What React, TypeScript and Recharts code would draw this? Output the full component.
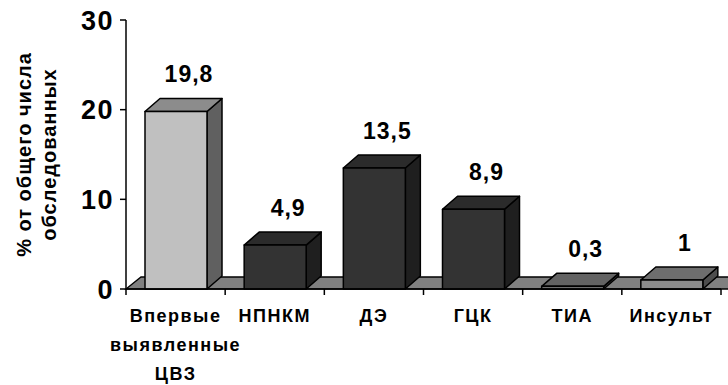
import React from 'react';
import { BarChart, Bar, XAxis, YAxis, ReferenceArea, LabelList, Label } from 'recharts';

const categories = ['Впервые\nвыявленные\nЦВЗ', 'НПНКМ', 'ДЭ', 'ГЦК', 'ТИА', 'Инсульт'];
const values = [19.8, 4.9, 13.5, 8.9, 0.3, 1];
const valueLabels = ['19,8', '4,9', '13,5', '8,9', '0,3', '1'];
const yTicks = [0, 10, 20, 30];
const yTitle = ['% от общего числа', 'обследованных'];

const palette = [
  { front: '#C0C0C0', top: '#8C8C8C', side: '#606060' },
  { front: '#333333', top: '#2B2B2B', side: '#1F1F1F' },
  { front: '#333333', top: '#2B2B2B', side: '#1F1F1F' },
  { front: '#333333', top: '#2B2B2B', side: '#1F1F1F' },
  { front: '#707070', top: '#636363', side: '#444444' },
  { front: '#8C8C8C', top: '#6E6E6E', side: '#4D4D4D' },
];

const data = categories.map((c, i) => ({ name: c, value: values[i], label: valueLabels[i] }));

const FONT = '"Liberation Sans", Arial, sans-serif';
const DX = 15;
const DY = 13;

const Box3D = (p: any) => {
  const { x, y, width: w, height: h, index } = p;
  const c = palette[index] || palette[1];
  return (
    <g stroke="#000" strokeWidth={1.5} strokeLinejoin="round">
      <polygon points={`${x + w},${y} ${x + w + DX},${y - DY} ${x + w + DX},${y + h - DY} ${x + w},${y + h}`} fill={c.side} />
      <polygon points={`${x},${y} ${x + DX},${y - DY} ${x + w + DX},${y - DY} ${x + w},${y}`} fill={c.top} />
      <rect x={x} y={y} width={w} height={h} fill={c.front} />
    </g>
  );
};

const Floor = (p: any) => {
  const { x, y, width: w, height: h } = p;
  const yb = y + (h || 0);
  const d = 12;
  return (
    <polygon
      points={`${x},${yb} ${x + DX},${yb - d} ${x + w + DX},${yb - d} ${x + w},${yb}`}
      fill="#808080"
      stroke="#000"
      strokeWidth={1.3}
    />
  );
};

const XTick = (p: any) => {
  const { x, y, payload, index, visibleTicksCount } = p;
  const half = payload && typeof payload.offset === 'number' ? payload.offset : 0;
  const lines = String(payload.value).split('\n');
  const isLast = visibleTicksCount ? index === visibleTicksCount - 1 : payload.index === categories.length - 1 || index === categories.length - 1;
  return (
    <g>
      {half > 0 && <line x1={x - half} x2={x - half} y1={y} y2={y + 6} stroke="#000" strokeWidth={1.5} />}
      {half > 0 && isLast && <line x1={x + half} x2={x + half} y1={y} y2={y + 6} stroke="#000" strokeWidth={1.5} />}
      {lines.map((l, i) => (
        <text
          key={i}
          x={x}
          y={y + 33 + i * 29}
          textAnchor="middle"
          fontFamily={FONT}
          fontWeight="bold"
          fontSize={18}
          letterSpacing={1.5}
          fill="#000"
        >
          {l}
        </text>
      ))}
    </g>
  );
};

const EmptyTick = () => <g />;

const YTick = (p: any) => {
  const { x, y, payload } = p;
  return (
    <text
      x={x - 1}
      y={y + 9.5}
      textAnchor="end"
      fontFamily={FONT}
      fontWeight="bold"
      fontSize={27}
      letterSpacing={1.5}
      fill="#000"
    >
      {payload.value}
    </text>
  );
};

const ValueLabel = (p: any) => {
  const { x, y, width, value } = p;
  return (
    <text
      x={x + width / 2 + 13}
      y={y - 29}
      textAnchor="middle"
      fontFamily={FONT}
      fontWeight="bold"
      fontSize={23}
      letterSpacing={1}
      fill="#000"
    >
      {value}
    </text>
  );
};

const YTitle = (p: any) => {
  const vb = p.viewBox || { x: 0, y: 20, width: 126, height: 269 };
  const cy = vb.y + vb.height / 2;
  const xs = [31, 56];
  return (
    <g>
      {yTitle.map((t, i) => (
        <text
          key={i}
          x={xs[i]}
          y={cy}
          transform={`rotate(-90, ${xs[i]}, ${cy})`}
          textAnchor="middle"
          fontFamily={FONT}
          fontWeight="bold"
          fontSize={20}
          letterSpacing={1}
          fill="#000"
        >
          {t}
        </text>
      ))}
    </g>
  );
};

export default function App() {
  return (
    <div style={{ position: 'absolute', left: 0, top: 0, width: 728, height: 385, background: '#fff' }}>
      <BarChart
        width={728}
        height={385}
        data={data}
        margin={{ top: 20, right: 7, bottom: 94, left: 0 }}
      >
        <XAxis
          xAxisId="grid"
          type="number"
          domain={[0, 6]}
          ticks={[0, 6]}
          tick={<EmptyTick />}
          tickLine={false}
          axisLine={false}
          height={1}
          allowDataOverflow
        />
        <XAxis
          xAxisId="cat"
          dataKey="name"
          height={1}
          interval={0}
          tickLine={false}
          tickSize={0}
          tickMargin={0}
          axisLine={{ stroke: '#000', strokeWidth: 1.5 }}
          tick={<XTick />}
        />
        <YAxis
          domain={[0, 30]}
          ticks={yTicks}
          width={126}
          tickSize={6}
          tickMargin={5}
          tickLine={{ stroke: '#000', strokeWidth: 1.5 }}
          axisLine={{ stroke: '#000', strokeWidth: 1.5 }}
          tick={<YTick />}
          interval={0}
        >
          <Label content={<YTitle />} />
        </YAxis>
        <ReferenceArea
          xAxisId="grid"
          x1={0}
          x2={6}
          y1={0}
          y2={0}
          ifOverflow="visible"
          shape={<Floor />}
        />
        <Bar
          xAxisId="cat"
          dataKey="value"
          barSize={62}
          isAnimationActive={false}
          shape={<Box3D />}
        >
          <LabelList dataKey="label" content={<ValueLabel />} />
        </Bar>
      </BarChart>
    </div>
  );
}
